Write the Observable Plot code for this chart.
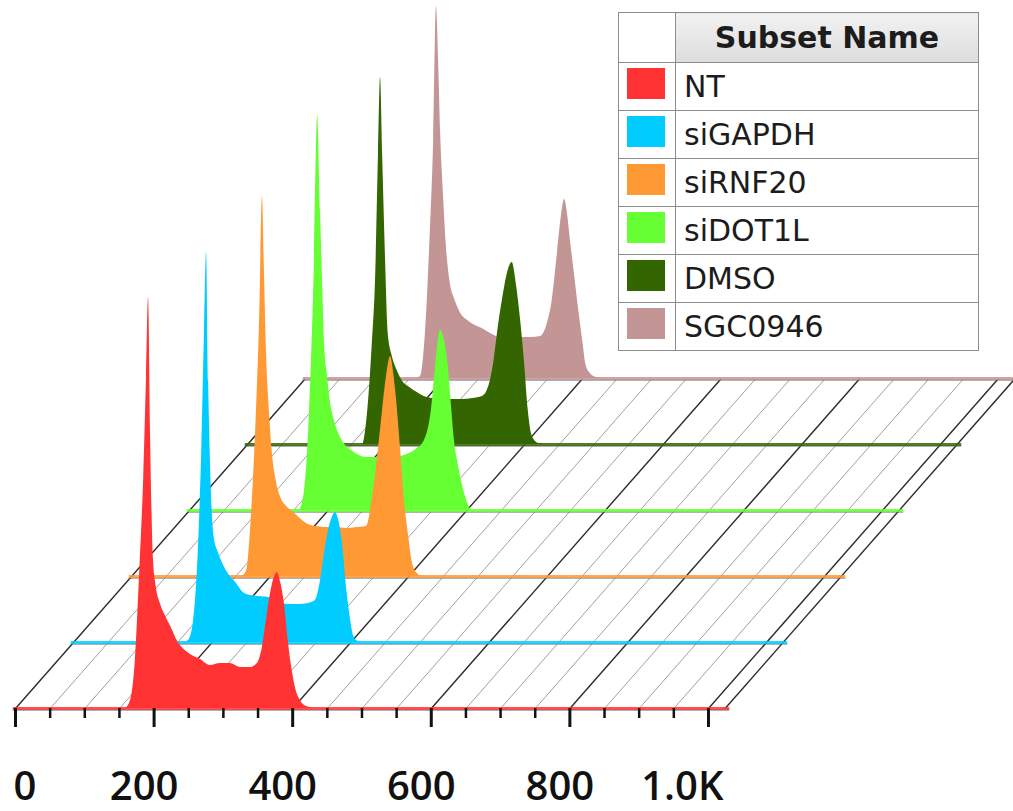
<!DOCTYPE html>
<html><head><meta charset="utf-8">
<script src="https://cdn.jsdelivr.net/npm/d3@7"></script>
<script src="https://cdn.jsdelivr.net/npm/@observablehq/plot@0.6"></script>
<style>
body{margin:0;background:#fff;}
#wrap{position:relative;width:1013px;height:811px;overflow:hidden;background:#fff;}
#legend{position:absolute;left:618px;top:12px;border-collapse:collapse;font-family:"DejaVu Sans",sans-serif;color:#1c1c1c;background:#fff;}
#legend td,#legend th{border:1.5px solid #8c8c8c;padding:0;}
#legend th{height:49px;font-size:30px;font-weight:bold;text-align:center;}
#legend th.name{background:linear-gradient(#f2f2f2,#dddddd);width:302px;}
#legend th.sw{width:56px;background:#fff;}
#legend td{height:47px;font-size:30px;}
#legend td.sw{vertical-align:top;}
#legend td.sw div{width:38px;height:31px;margin:5px 0 0 8px;}
#legend td.name{padding-left:8px;vertical-align:middle;}
</style></head>
<body><div id="wrap"></div>
<script>
const subsets = ["NT", "siGAPDH", "siRNF20", "siDOT1L", "DMSO", "SGC0946"];
const colors = ["#ff3333", "#00ccff", "#ff9933", "#66ff33", "#336600", "#c49595"];

// DNA content channel (linear, 0-1024)
const channel = [159,166,173,180,185,189,192,195,199,203,209,216,224,234,245,255,267,281,296,310,325,339,349,356,362,368,374,378,382,388,394,400,405,411,420,433];

// cell counts per channel bin
const countsNT      = [0,8,48,148,230,330,411,270,150,122,105,93,82,67,58,53,49,43,45,45,41,41,45,60,88,115,132,136,128,105,65,35,18,8,2,0];
const countsGAPDH   = [0,2,20,90,190,310,390,260,150,105,90,78,68,60,50,47,46,45,40,38,38,39,42,60,88,112,126,130,124,100,55,22,5,1,0,0];
const countsRNF20   = [0,5,60,160,260,380,300,220,165,125,95,78,70,64,57,52,50,49,49,48,49,50,85,125,164,200,220,205,180,130,75,40,15,4,0,0];
const countsDOT1L   = [0,20,95,240,395,300,230,165,135,110,90,76,66,60,55,53,53,53,53,55,60,70,100,150,180,170,140,105,72,45,25,10,2,0,0,0];
const countsDMSO    = [0,0,30,100,170,290,367,290,190,111,88,74,63,57,52,48,46,45,45,45,46,48,60,85,118,145,168,178,182,160,125,80,35,8,1,0];
const countsSGC0946 = [0,2,45,145,240,372,320,245,185,135,95,78,65,58,53,50,45,41,41,41,41,42,55,78,115,155,179,165,140,105,70,38,13,5,1,0];

const seriesCounts = [countsNT, countsGAPDH, countsRNF20, countsDOT1L, countsDMSO, countsSGC0946];

// axis ticks
const majorTicks = [0, 200, 400, 600, 800, 1000];
const minorTicks = [50,100,150,250,300,350,450,500,550,650,700,750,850,900,950];
const gridMajor = [0, 200, 400, 600, 800, 1000, 1024];
const gridMinor = minorTicks;

// 3D offset per layer (channel units, count units)
const OX = 83.7, OY = 66;
const NL = subsets.length - 1;

const layers = subsets.map((name, i) => ({name, i, color: colors[i],
  rows: channel.map((v, j) => ({v, count: seriesCounts[i][j]}))}));

const fmt = d => d >= 1000 ? (d / 1000).toFixed(1) + "K" : String(d);

const marks = [
  Plot.link(gridMinor, {x1: d => d, y1: 0, x2: d => d + NL * OX, y2: NL * OY, stroke: "#a0a0a0", strokeWidth: 1}),
  Plot.link(gridMajor, {x1: d => d, y1: 0, x2: d => d + NL * OX, y2: NL * OY, stroke: "#2b2b2b", strokeWidth: 1.4})
];
for (let i = NL; i >= 0; i--) {
  const L = layers[i];
  marks.push(Plot.link([L], {x1: d => d.i * OX - 4, x2: d => d.i * OX + 1030, y1: d => d.i * OY, y2: d => d.i * OY,
    stroke: "#666", strokeWidth: 1, dy: 1.5}));
  marks.push(Plot.link([L], {x1: d => d.i * OX - 4, x2: d => d.i * OX + 1030, y1: d => d.i * OY, y2: d => d.i * OY,
    stroke: L.color, strokeWidth: 3, strokeOpacity: 0.85}));
  marks.push(Plot.areaY(L.rows, {x: d => d.v + i * OX, y1: d => i * OY, y2: d => d.count + i * OY,
    fill: L.color, curve: "monotone-x"}));
}
const textOpts = {tickSize: 0, tickPadding: 63, tickFormat: fmt, fontSize: 40, fontWeight: 600,
  fontFamily: "Open Sans", fill: "#111", label: null};
marks.push(
  Plot.axisX({ticks: majorTicks, tickSize: 19, strokeWidth: 3, stroke: "#111", fill: "none", label: null}),
  Plot.axisX({ticks: minorTicks, tickSize: 10, strokeWidth: 2.5, stroke: "#111", fill: "none", label: null}),
  Plot.axisX({...textOpts, ticks: [0], textAnchor: "start", dx: -2}),
  Plot.axisX({...textOpts, ticks: [200, 400, 600, 800], dx: -10}),
  Plot.axisX({...textOpts, ticks: [1000], textAnchor: "end", dx: 15})
);

const chart = Plot.plot({
  width: 1013, height: 811,
  marginTop: 0, marginBottom: 103, marginLeft: 15, marginRight: 288.4,
  x: {domain: [0, 1024]},
  y: {domain: [0, 708], axis: null},
  style: {background: "transparent", overflow: "hidden"},
  marks
});
const wrap = document.getElementById("wrap");
wrap.appendChild(chart);

// legend table
const tbl = document.createElement("table");
tbl.id = "legend";
let html = '<tr><th class="sw"></th><th class="name">Subset Name</th></tr>';
subsets.forEach((s, i) => {
  html += `<tr><td class="sw"><div style="background:${colors[i]}"></div></td><td class="name">${s}</td></tr>`;
});
tbl.innerHTML = html;
wrap.appendChild(tbl);
</script>
</body></html>
